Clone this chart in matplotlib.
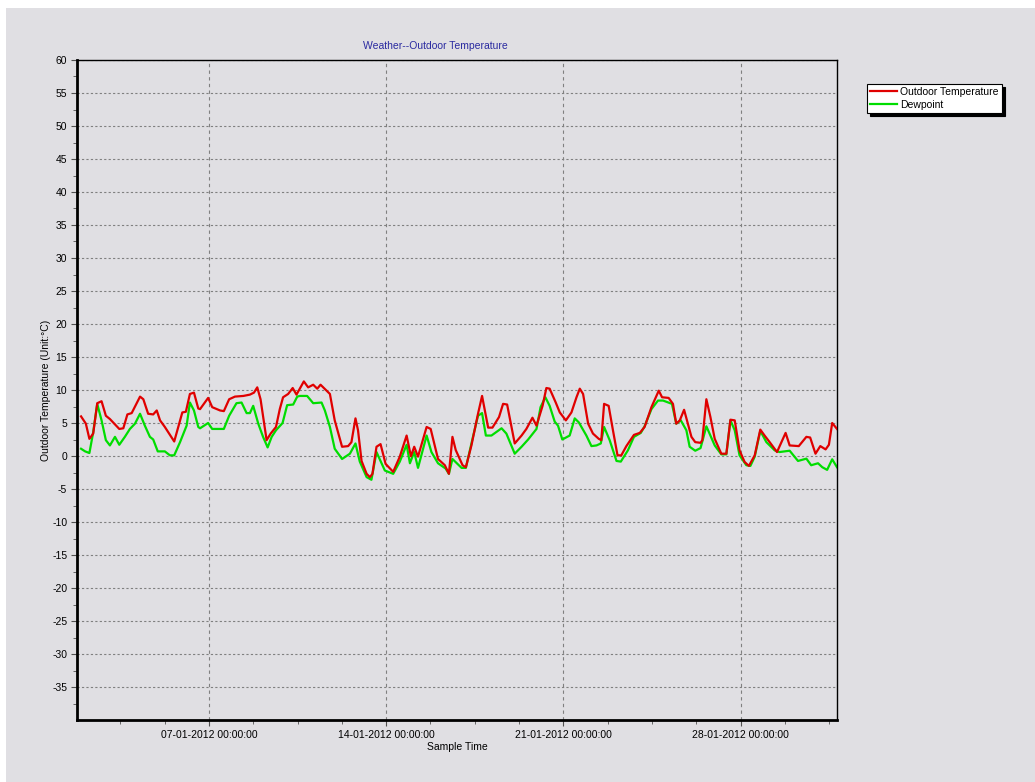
#!/usr/bin/env python3
"""Weather -- outdoor temperature and dewpoint, January 2012."""

import matplotlib

matplotlib.use("Agg")
import matplotlib.dates as mdates
import matplotlib.pyplot as plt
import numpy as np
import pandas as pd
from matplotlib.patches import Rectangle

plt.rcParams["font.family"] = ["Liberation Sans", "DejaVu Sans"]
plt.rcParams["axes.unicode_minus"] = False

START = pd.Timestamp("2012-01-01 00:00:00")

# time of each sample, in days after 01-01-2012 00:00
temp_days = [
    0.95, 1.14, 1.28, 1.43, 1.59, 1.76, 1.93, 2.09, 2.46, 2.62, 2.78, 2.95,
    3.28, 3.41, 3.60, 3.80, 3.94, 4.07, 4.26, 4.63, 4.95, 5.09, 5.25, 5.41,
    5.58, 5.65, 5.97, 6.13, 6.44, 6.59, 6.80, 7.03, 7.36, 7.62, 7.78, 7.91,
    8.04, 8.28, 8.44, 8.65, 8.80, 8.93, 9.13, 9.31, 9.46, 9.75, 9.92, 10.12,
    10.28, 10.41, 10.62, 10.78, 10.97, 11.26, 11.50, 11.63, 11.79, 11.89,
    12.03, 12.23, 12.36, 12.46, 12.62, 12.78, 12.98, 13.28, 13.54, 13.81,
    13.98, 14.11, 14.26, 14.60, 14.76, 15.05, 15.32, 15.48, 15.62, 15.75,
    16.02, 16.15, 16.37, 16.63, 16.79, 16.90, 17.03, 17.20, 17.46, 17.62,
    17.78, 18.08, 18.35, 18.54, 18.78, 18.94, 19.18, 19.33, 19.46, 19.70,
    19.86, 20.10, 20.32, 20.52, 20.65, 20.78, 20.98, 21.17, 21.40, 21.50,
    21.61, 21.79, 21.96, 22.14, 22.29, 22.49, 22.79, 23.02, 23.21, 23.48,
    23.77, 23.90, 24.16, 24.33, 24.46, 24.60, 24.77, 24.92, 25.06, 25.21,
    25.42, 25.49, 25.65, 25.81, 25.98, 26.24, 26.44, 26.60, 26.77, 26.96,
    27.16, 27.33, 27.56, 27.78, 27.95, 28.15, 28.44, 28.78, 28.94, 29.30,
    29.60, 29.75, 29.96, 30.15, 30.36, 30.49, 30.62, 30.81,
]
outdoor_temp = [
    6.0, 4.9, 2.6, 3.4, 8.0, 8.3, 6.1, 5.6, 4.1, 4.2, 6.3, 6.5,
    9.0, 8.6, 6.4, 6.3, 6.9, 5.4, 4.4, 2.2, 6.6, 6.7, 9.4, 9.6,
    7.2, 7.1, 8.8, 7.4, 6.9, 6.8, 8.6, 9.0, 9.1, 9.3, 9.6, 10.4,
    8.6, 2.4, 3.4, 4.4, 7.1, 8.9, 9.4, 10.3, 9.3, 11.3, 10.4, 10.8,
    10.2, 10.8, 10.0, 9.4, 5.4, 1.4, 1.5, 2.1, 5.7, 3.9,
    -0.75, -2.7, -3.2, -2.7, 1.4, 1.8, -1.2, -2.4, -0.1, 3.1,
    -0.05, 1.4, -0.1, 4.4, 4.1, -0.45, -1.4, -2.7, 2.9, 0.9,
    -1.4, -1.7, 1.6, 6.4, 9.1, 6.9, 4.3, 4.3, 5.9, 7.9,
    7.8, 1.9, 3.1, 4.1, 5.8, 4.6, 7.6, 10.3, 10.2, 8.1,
    6.6, 5.4, 6.6, 8.9, 10.2, 9.4, 4.9, 3.4, 2.6, 2.4,
    7.9, 7.6, 3.9, 0.1, 0.1, 1.5, 3.2, 3.5, 4.4, 7.4,
    9.9, 8.9, 8.8, 7.9, 4.9, 5.4, 7.0, 4.9, 2.9, 2.1,
    2.0, 2.4, 8.6, 5.9, 2.6, 0.35, 0.35, 5.5, 5.4, 0.85,
    -0.9, -1.5, 0.1, 4.0, 3.1, 2.1, 0.6, 3.5, 1.6, 1.5,
    2.9, 2.8, 0.35, 1.5, 1.0, 1.7, 5.0, 4.1,
]

dew_days = [
    0.95, 1.11, 1.28, 1.43, 1.59, 1.76, 1.93, 2.09, 2.29, 2.46, 2.68, 2.88,
    3.08, 3.28, 3.47, 3.67, 3.80, 3.98, 4.26, 4.46, 4.63, 4.86, 5.12, 5.25,
    5.41, 5.58, 5.65, 5.97, 6.13, 6.59, 6.80, 7.09, 7.29, 7.49, 7.62, 7.75,
    7.95, 8.14, 8.32, 8.48, 8.65, 8.91, 9.09, 9.33, 9.49, 9.59, 9.88, 10.12,
    10.41, 10.45, 10.58, 10.78, 10.97, 11.26, 11.57, 11.79, 11.96, 12.23,
    12.42, 12.62, 12.95, 13.28, 13.54, 13.81, 13.94, 14.11, 14.26, 14.60,
    14.79, 15.05, 15.35, 15.48, 15.62, 15.98, 16.15, 16.43, 16.63, 16.79,
    16.94, 17.16, 17.56, 17.75, 18.08, 18.35, 18.61, 18.94, 19.10, 19.29,
    19.46, 19.66, 19.79, 19.96, 20.25, 20.45, 20.61, 20.91, 21.11, 21.31,
    21.48, 21.61, 21.83, 22.10, 22.27, 22.55, 22.79, 23.06, 23.21, 23.48,
    23.74, 23.94, 24.29, 24.46, 24.64, 24.86, 24.99, 25.21, 25.42, 25.65,
    25.98, 26.24, 26.44, 26.60, 26.77, 26.96, 27.23, 27.39, 27.56, 27.78,
    28.02, 28.35, 28.54, 28.94, 29.27, 29.60, 29.79, 30.06, 30.23, 30.42,
    30.62, 30.81,
]
dewpoint = [
    1.1, 0.7, 0.45, 3.6, 7.9, 5.4, 2.4, 1.6, 2.9, 1.7, 2.9, 4.1,
    4.9, 6.4, 4.6, 2.9, 2.5, 0.7, 0.7, 0.1, 0.1, 2.1, 4.6, 8.1,
    6.9, 4.4, 4.2, 5.0, 4.1, 4.1, 6.1, 8.0, 8.1, 6.5, 6.5, 7.6,
    4.9, 2.9, 1.3, 2.9, 3.9, 5.0, 7.7, 7.8, 9.0, 9.1, 9.1, 8.0,
    8.1, 8.1, 6.9, 4.4, 1.1, -0.45, 0.35, 1.9, -0.85, -3.2,
    -3.6, 0.6, -2.2, -2.7, -0.85, 1.7, -1.1, 0.6, -1.8, 3.1,
    0.6, -1.1, -1.9, -2.7, -0.45, -1.8, -1.8, 2.9, 6.1, 6.5,
    3.1, 3.1, 4.2, 3.4, 0.35, 1.4, 2.5, 4.1, 7.4, 8.9,
    7.6, 5.2, 4.6, 2.5, 3.1, 5.7, 5.1, 3.1, 1.5, 1.6,
    1.9, 4.4, 2.4, -0.75, -0.85, 0.85, 2.9, 3.5, 4.5, 7.1,
    8.4, 8.4, 7.9, 4.9, 5.4, 3.9, 1.4, 0.8, 1.2, 4.5,
    1.6, 0.25, 0.25, 5.4, 3.9, 0.1, -1.4, -1.5, -0.1, 3.8,
    2.1, 0.85, 0.6, 0.8, -0.75, -0.4, -1.4, -1.1, -1.7, -2.1,
    -0.5, -1.7,
]

y_ticks = list(range(-35, 61, 5))
x_ticks = ["2012-01-07", "2012-01-14", "2012-01-21", "2012-01-28"]

BG = "#e0dfe3"


def to_time(days):
    return START + pd.to_timedelta(np.asarray(days), unit="D")


fig = plt.figure(figsize=(10.35, 7.82), dpi=100, facecolor="white")
fig.patches.append(
    Rectangle((6 / 1035, 0), 1, 1 - 8 / 782, transform=fig.transFigure,
              facecolor=BG, edgecolor="none", zorder=-10)
)

ax = fig.add_axes([77 / 1035, 1 - 720 / 782, 760 / 1035, 660 / 782])
ax.set_facecolor(BG)

ax.plot(to_time(temp_days), outdoor_temp, color="#e00000", linewidth=1.6,
        label="Outdoor Temperature", zorder=3)
ax.plot(to_time(dew_days), dewpoint, color="#00dd00", linewidth=1.6,
        label="Dewpoint", zorder=2)

ax.set_yticks(y_ticks)
ax.set_yticks(np.arange(-37.5, 60, 5), minor=True)
ax.set_ylim(-40, 60)
ax.set_xticks(pd.to_datetime(x_ticks))
ax.set_xticks(to_time(6 + np.arange(-2, 15) * 1.75), minor=True)
ax.set_xlim(to_time([0.79])[0], to_time([30.81])[0])
ax.xaxis.set_major_formatter(mdates.DateFormatter("%d-%m-%Y %H:%M:%S"))

ax.tick_params(axis="both", which="major", labelsize=7.5, length=4,
               color="#505050", pad=3)
ax.tick_params(axis="both", which="minor", length=3, color="#505050")

ax.grid(True, axis="y", which="major", color="#808080", linestyle=(0, (2, 2)),
        linewidth=0.8)
ax.grid(True, axis="x", which="major", color="#808080", linestyle=(0, (3, 3)),
        linewidth=0.8)

for side in ("left", "bottom"):
    ax.spines[side].set_linewidth(2.0)
for side in ("top", "right"):
    ax.spines[side].set_linewidth(1.0)

ax.set_xlabel("Sample Time", fontsize=7.5, labelpad=2)
ax.set_ylabel("Outdoor Temperature (Unit:°C)", fontsize=7.5, labelpad=1)

fig.text(435 / 1035, 1 - 46 / 782, "Weather--Outdoor Temperature",
         color="#2a2aa0", fontsize=7.5, ha="center", va="center")

leg = fig.legend(loc="upper left", bbox_to_anchor=(867 / 1035, 1 - 84 / 782),
                 fontsize=7.5, frameon=True, fancybox=False,
                 shadow={"color": "black", "alpha": 1.0},
                 handlelength=2.6, handletextpad=0.3, labelspacing=0.25,
                 borderpad=0.3, borderaxespad=0)
leg.get_frame().set_edgecolor("black")
leg.get_frame().set_linewidth(0.8)

fig.savefig("out.png", dpi=100, facecolor=fig.get_facecolor())
